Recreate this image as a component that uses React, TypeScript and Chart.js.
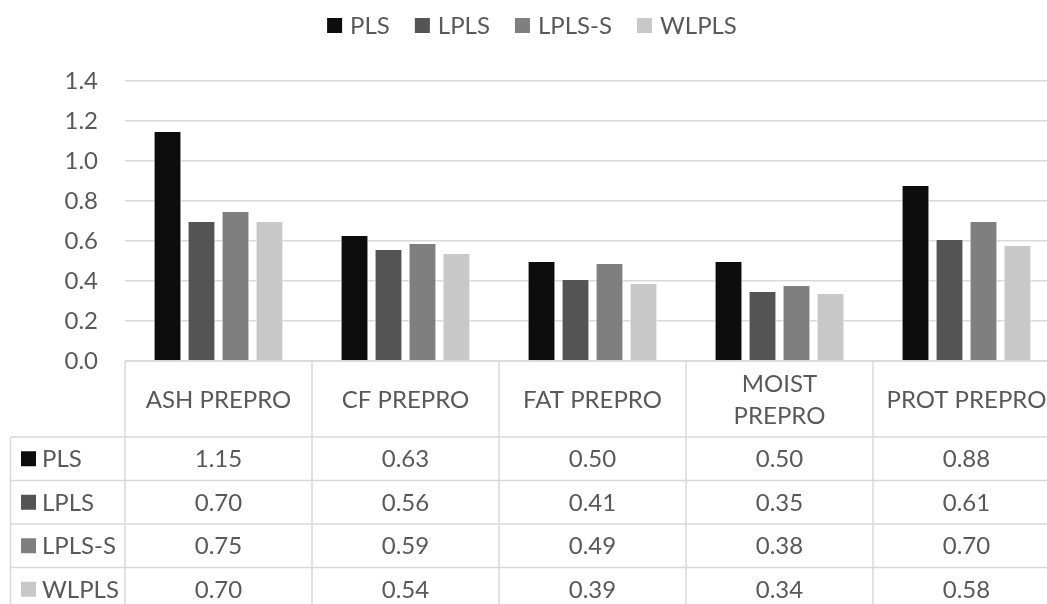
import React, { useEffect, useRef } from "react";
import { Chart, registerables } from "chart.js";

Chart.register(...registerables);

// Categories and model errors per preprocessing set
const categories = ["ASH PREPRO", "CF PREPRO", "FAT PREPRO", "MOIST PREPRO", "PROT PREPRO"];
const seriesNames = ["PLS", "LPLS", "LPLS-S", "WLPLS"];
const plsValues = [1.15, 0.63, 0.5, 0.5, 0.88];
const lplsValues = [0.7, 0.56, 0.41, 0.35, 0.61];
const lplsSValues = [0.75, 0.59, 0.49, 0.38, 0.7];
const wlplsValues = [0.7, 0.54, 0.39, 0.34, 0.58];
const seriesColors = ["#0d0d0d", "#545454", "#7f7f7f", "#c8c8c8"];
const yTicks = [0, 0.2, 0.4, 0.6, 0.8, 1.0, 1.2, 1.4];

const FONT = "Lato";
const TEXT = "#595959";
const LINE = "#d9d9d9";
const CANVAS_W = 1064;
const CANVAS_H = 612;

// Legend row drawn across the top
const legendPlugin = {
  id: "topLegend",
  afterDraw(chart: any) {
    const ctx = chart.ctx;
    const box = 15;
    const gapText = 8;
    const gapItem = 25;
    ctx.save();
    ctx.font = `24px ${FONT}`;
    const items = chart.data.datasets.map((d: any) => ({
      label: d.label,
      color: d.backgroundColor,
      w: ctx.measureText(d.label).width,
    }));
    const total =
      items.reduce((s: number, it: any) => s + box + gapText + it.w, 0) + gapItem * (items.length - 1);
    let x = chart.width / 2 - total / 2;
    const cy = 25.5;
    ctx.textBaseline = "middle";
    ctx.textAlign = "left";
    for (const it of items) {
      ctx.fillStyle = it.color;
      ctx.fillRect(x, cy - box / 2, box, box);
      x += box + gapText;
      ctx.fillStyle = TEXT;
      ctx.fillText(it.label, x, cy + 1);
      x += it.w + gapItem;
    }
    ctx.restore();
  },
};

function wrapLabel(ctx: CanvasRenderingContext2D, text: string, maxW: number): string[] {
  if (ctx.measureText(text).width <= maxW) return [text];
  const words = text.split(" ");
  const lines: string[] = [];
  let cur = "";
  for (const w of words) {
    const next = cur ? cur + " " + w : w;
    if (cur && ctx.measureText(next).width > maxW) {
      lines.push(cur);
      cur = w;
    } else cur = next;
  }
  if (cur) lines.push(cur);
  return lines;
}

// Data table under the plot, aligned with the category columns
const tablePlugin = {
  id: "dataTable",
  afterDraw(chart: any) {
    const ctx = chart.ctx;
    const xs = chart.scales.x;
    const area = chart.chartArea;
    const n = chart.data.labels.length;
    const colW = (area.right - area.left) / n;
    const headTop = area.bottom;
    const headBottom = headTop + 76;
    const rowH = 43.5;
    const nRows = chart.data.datasets.length;
    const tableBottom = headBottom + rowH * nRows;
    const leftEdge = 10.5;

    ctx.save();
    ctx.strokeStyle = LINE;
    ctx.lineWidth = 1.5;
    ctx.beginPath();
    // header top border
    ctx.moveTo(area.left, headTop);
    ctx.lineTo(area.right, headTop);
    // row borders
    for (let r = 0; r <= nRows; r++) {
      const y = headBottom + r * rowH;
      ctx.moveTo(leftEdge, y);
      ctx.lineTo(area.right, y);
    }
    // column borders
    ctx.moveTo(leftEdge, headBottom);
    ctx.lineTo(leftEdge, tableBottom);
    for (let c = 0; c <= n; c++) {
      const x = area.left + c * colW;
      ctx.moveTo(x, headTop);
      ctx.lineTo(x, tableBottom);
    }
    ctx.stroke();

    ctx.font = `24px ${FONT}`;
    ctx.fillStyle = TEXT;
    ctx.textBaseline = "middle";
    ctx.textAlign = "center";
    const lineH = 32;
    chart.data.labels.forEach((lab: string, i: number) => {
      const cx = xs.getPixelForValue(i);
      const lines = wrapLabel(ctx, lab, colW * 0.86);
      const midY = (headTop + headBottom) / 2 + 1;
      lines.forEach((ln, k) => {
        ctx.fillText(ln, cx, midY + (k - (lines.length - 1) / 2) * lineH);
      });
    });

    chart.data.datasets.forEach((ds: any, r: number) => {
      const cy = headBottom + r * rowH + rowH / 2;
      ctx.fillStyle = ds.backgroundColor;
      ctx.fillRect(21, cy - 7.5, 15, 15);
      ctx.fillStyle = TEXT;
      ctx.textAlign = "left";
      ctx.fillText(ds.label, 42, cy + 1);
      ctx.textAlign = "center";
      ds.data.forEach((v: number, i: number) => {
        ctx.fillText(v.toFixed(2), xs.getPixelForValue(i), cy + 1);
      });
    });
    ctx.restore();
  },
};

export default function App() {
  const ref = useRef<HTMLCanvasElement>(null);

  useEffect(() => {
    if (!ref.current) return;
    const values = [plsValues, lplsValues, lplsSValues, wlplsValues];
    const chart = new Chart(ref.current, {
      type: "bar",
      data: {
        labels: categories,
        datasets: seriesNames.map((name, i) => ({
          label: name,
          data: values[i],
          backgroundColor: seriesColors[i],
          borderColor: "#ffffff",
          borderWidth: 1,
          categoryPercentage: 0.727,
          barPercentage: 0.82,
        })),
      },
      options: {
        responsive: false,
        animation: false,
        devicePixelRatio: 1,
        layout: { padding: { top: 81, bottom: CANVAS_H - 361, left: 0, right: CANVAS_W - 1060 } },
        plugins: {
          legend: { display: false },
          tooltip: { enabled: false },
        },
        scales: {
          x: { display: false },
          y: {
            min: 0,
            max: 1.4,
            afterBuildTicks(scale: any) {
              scale.ticks = yTicks.map((v) => ({ value: v }));
            },
            afterFit(scale: any) {
              scale.width = 125;
              scale.paddingTop = 0;
              scale.paddingBottom = 0;
            },
            ticks: {
              padding: 27,
              color: TEXT,
              font: { family: FONT, size: 24 },
              callback: (v: any) => Number(v).toFixed(1),
            },
            grid: { color: LINE, lineWidth: 1.5, drawTicks: false },
            border: { display: false },
          },
        },
      },
      plugins: [legendPlugin, tablePlugin],
    });
    return () => chart.destroy();
  }, []);

  return (
    <div
      style={{
        position: "fixed",
        left: 0,
        top: 0,
        width: 1047,
        height: 604,
        overflow: "hidden",
        background: "#ffffff",
      }}
    >
      <canvas ref={ref} width={CANVAS_W} height={CANVAS_H} style={{ width: CANVAS_W, height: CANVAS_H }} />
    </div>
  );
}
